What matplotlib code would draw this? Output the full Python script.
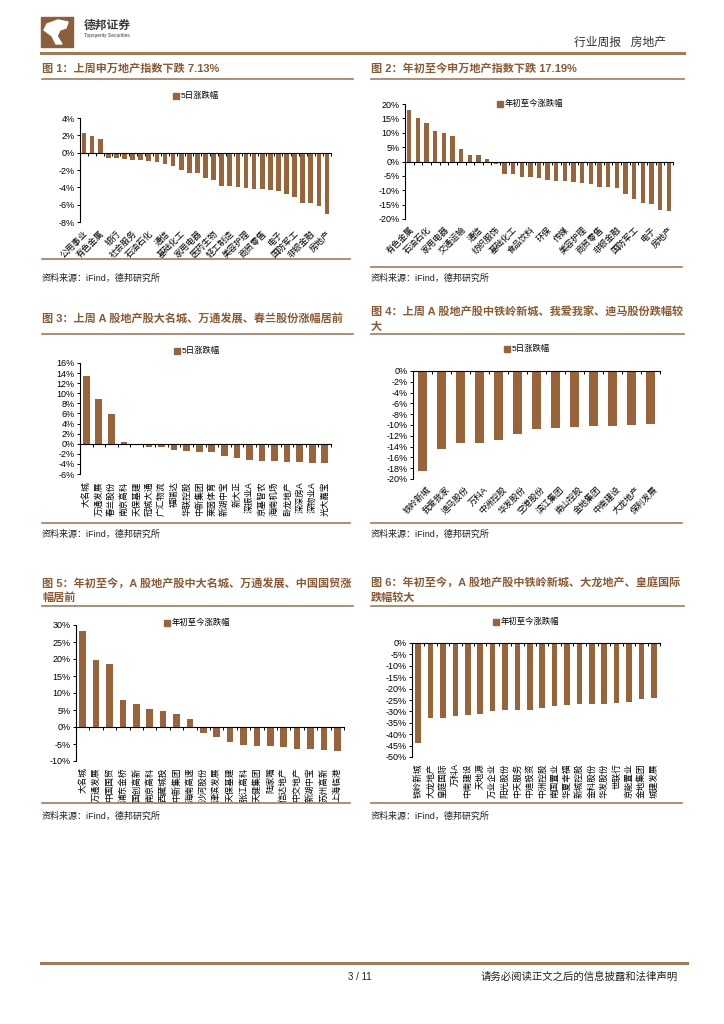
import numpy as np
import matplotlib
matplotlib.use('Agg')
import matplotlib.pyplot as plt
from matplotlib.lines import Line2D
from matplotlib.patches import Rectangle, Polygon
from matplotlib.ticker import FuncFormatter
from matplotlib import transforms

plt.rcParams['font.family'] = ['Liberation Sans', 'Noto Sans CJK SC']

# ---- data ----
# fig 1: SW level-1 industries, 5-day change (labels shown on every other bar)
sw_week_labels = ['公用事业', '有色金属', '银行', '社会服务', '石油石化', '通信', '基础化工', '家用电器',
                  '医药生物', '轻工制造', '美容护理', '商贸零售', '电子', '国防军工', '非银金融', '房地产']
sw_week_values = [2.3, 1.9, 1.6, -0.6, -0.6, -0.7, -0.8, -0.85, -1.0, -1.1, -1.3, -1.5, -2.0, -2.3,
                  -2.4, -2.9, -3.1, -3.8, -3.9, -3.95, -4.05, -4.15, -4.2, -4.3, -4.4, -4.8, -5.1,
                  -5.8, -5.85, -6.1, -7.13]

# fig 2: SW level-1 industries, year-to-date change
sw_ytd_labels = ['有色金属', '石油石化', '家用电器', '交通运输', '通信', '纺织服饰', '基础化工', '食品饮料',
                 '环保', '传媒', '美容护理', '商贸零售', '非银金融', '国防军工', '电子', '房地产']
sw_ytd_values = [17.8, 15.2, 13.4, 10.6, 10.0, 9.0, 4.2, 2.4, 2.2, 0.8, -0.9, -4.4, -4.4, -5.4, -5.4,
                 -5.9, -6.5, -6.9, -6.9, -7.1, -7.4, -7.8, -8.7, -8.8, -9.1, -11.3, -13.0, -14.5,
                 -14.7, -16.8, -17.19]

# fig 3: top gainers last week
top_week_labels = ['大名城', '万通发展', '春兰股份', '南京高科', '天保基建', '冠城大通', '广汇物流', '福瑞达',
                   '华联控股', '中新集团', '莱茵体育', '新湖中宝', '新大正', '深振业A', '京基智农', '海南机场',
                   '卧龙地产', '深深房A', '深物业A', '光大嘉宝']
top_week_values = [13.4, 8.8, 5.9, 0.4, 0.0, -0.6, -0.7, -1.2, -1.5, -1.6, -1.6, -2.5, -2.9, -3.2,
                   -3.4, -3.5, -3.6, -3.6, -3.9, -3.9]

# fig 4: top losers last week
low_week_labels = ['铁岭新城', '我爱我家', '迪马股份', '万科A', '中洲控股', '华发股份', '空港股份', '滨江集团',
                   '南山控股', '金地集团', '中南建设', '大龙地产', '保利发展']
low_week_values = [-18.5, -14.4, -13.4, -13.3, -12.7, -11.6, -10.8, -10.6, -10.4, -10.1, -10.1,
                   -10.0, -9.9]

# fig 5: top gainers year-to-date
top_ytd_labels = ['大名城', '万通发展', '中国国贸', '浦东金桥', '国创高新', '南京高科', '西藏城投', '中新集团',
                  '海南高速', '沙河股份', '津滨发展', '天保基建', '张江高科', '天健集团', '陆家嘴', '信达地产',
                  '中交地产', '新湖中宝', '苏州高新', '上海临港']
top_ytd_values = [28.3, 19.7, 18.4, 8.0, 6.8, 5.3, 4.8, 3.9, 2.5, -1.7, -2.9, -4.3, -5.3, -5.5,
                  -5.7, -6.0, -6.4, -6.6, -6.9, -7.1]

# fig 6: top losers year-to-date
low_ytd_labels = ['铁岭新城', '大龙地产', '皇庭国际', '万科A', '中南建设', '天地源', '万业企业', '阳光股份',
                  '中天服务', '中迪投资', '中洲控股', '南国置业', '华夏幸福', '新城控股', '金科股份', '华发股份',
                  '世联行', '京能置业', '金地集团', '城建发展']
low_ytd_values = [-43.9, -32.9, -32.7, -32.2, -31.6, -31.3, -29.8, -29.5, -29.5, -29.2, -28.5,
                  -27.8, -27.2, -26.7, -26.6, -26.6, -26.3, -25.7, -24.6, -24.0]

W, H = 724, 1024
BAR = '#9A643A'
TITLE = '#8B5A32'
RULE = '#A37A55'

fig = plt.figure(figsize=(W / 100, H / 100), dpi=100)


def ftext(x, y, s, **kw):
    kw.setdefault('va', 'center')
    return fig.text(x / W, 1 - y / H, s, **kw)


def hline(x0, x1, y, color=RULE, lw=1.2):
    fig.add_artist(Line2D([x0 / W, x1 / W], [1 - y / H, 1 - y / H], color=color, lw=lw,
                          transform=fig.transFigure))


def legend(x, y, text):
    fig.add_artist(Rectangle(((x - 3) / W, 1 - (y + 3) / H), 6 / W, 6 / H, color=BAR,
                             transform=fig.transFigure))
    ftext(x + 5, y, text, fontsize=6)


def bar_chart(rect, values, labels, ylim, step, width, every=1, rot=45, gap=8):
    x0, y0, x1, y1 = rect
    ax = fig.add_axes([x0 / W, 1 - y1 / H, (x1 - x0) / W, (y1 - y0) / H])
    xs = np.arange(len(values))
    ax.bar(xs, values, width=width, color=BAR, zorder=2)
    ax.set_xlim(-0.5, len(values) - 0.5)
    ax.set_ylim(*ylim)
    ax.set_yticks(np.arange(ylim[0], ylim[1] + step / 2, step))
    ax.yaxis.set_major_formatter(FuncFormatter(lambda v, p: f'{v:.0f}%'))
    for s in ['top', 'right']:
        ax.spines[s].set_visible(False)
    ax.spines['bottom'].set_position(('data', 0))
    for s in ['left', 'bottom']:
        ax.spines[s].set_linewidth(0.8)
    ax.set_xticks(np.arange(len(values) + 1) - 0.5)
    ax.set_xticklabels([])
    ax.tick_params(axis='x', length=2.5, width=0.7, direction='out')
    ax.tick_params(axis='y', length=2.5, width=0.7, labelsize=6.5, pad=1.5)
    trans = transforms.blended_transform_factory(ax.transData, ax.transAxes)
    yoff = -gap / (y1 - y0)
    for i, lab in enumerate(labels):
        xpos = i * every
        if rot == 45:
            ax.text(xpos + 0.35, yoff, lab, transform=trans, rotation=45, rotation_mode='anchor',
                    ha='right', va='center', fontsize=6.2)
        else:
            ax.text(xpos, yoff, lab, transform=trans, rotation=90, ha='center', va='top', fontsize=6.2)
    return ax


# ---- page header ----
fig.add_artist(Rectangle((41 / W, 1 - 47 / H), 32 / W, 30 / H, color='#8B5E3C', transform=fig.transFigure))
logo = np.array([[47, 24], [58, 20], [68, 22], [66, 28], [60, 30], [57, 36], [62, 44], [56, 44],
                 [52, 36], [48, 33], [44, 30]])
fig.add_artist(Polygon(np.column_stack([logo[:, 0] / W, 1 - logo[:, 1] / H]), color='white',
                       transform=fig.transFigure))
ftext(84, 26, '德邦证券', fontsize=8.5, fontweight='bold', color='#3A3A3A')
ftext(84, 36, 'Topsperity Securities', fontsize=3.5, color='#3A3A3A')
ftext(666, 43, '行业周报   房地产', fontsize=8.5, ha='right', color='#333333')
hline(41, 684, 53, lw=2.2)

# ---- titles ----
tkw = dict(fontsize=8, fontweight='bold', color=TITLE)
ftext(42, 69, '图 1：上周申万地产指数下跌 7.13%', **tkw)
ftext(371, 69, '图 2：年初至今申万地产指数下跌 17.19%', **tkw)
hline(42, 353, 79)
hline(371, 684, 79)

ftext(42, 318, '图 3：上周 A 股地产股大名城、万通发展、春兰股份涨幅居前', **tkw)
ftext(371, 312, '图 4：上周 A 股地产股中铁岭新城、我爱我家、迪马股份跌幅较', **tkw)
ftext(371, 327, '大', **tkw)
hline(42, 353, 334)
hline(371, 684, 334)

ftext(42, 583, '图 5：年初至今，A 股地产股中大名城、万通发展、中国国贸涨', **tkw)
ftext(42, 598, '幅居前', **tkw)
ftext(371, 583, '图 6：年初至今，A 股地产股中铁岭新城、大龙地产、皇庭国际', **tkw)
ftext(371, 598, '跌幅较大', **tkw)
hline(42, 353, 606)
hline(371, 684, 606)

# ---- charts ----
bar_chart((80, 118, 331, 222), sw_week_values, sw_week_labels, (-8, 4), 2, 0.58, every=2, rot=45, gap=10)
legend(176, 96, '5日涨跌幅')

bar_chart((405, 104, 673, 219), sw_ytd_values, sw_ytd_labels, (-20, 20), 5, 0.5, every=2, rot=45, gap=9)
legend(500, 104, '年初至今涨跌幅')

bar_chart((80, 363, 331, 474), top_week_values, top_week_labels, (-6, 16), 2, 0.53, rot=90, gap=7)
legend(177, 351, '5日涨跌幅')

bar_chart((413, 371, 660, 479), low_week_values, low_week_labels, (-20, 0), 2, 0.45, rot=45, gap=9)
legend(507, 349, '5日涨跌幅')

bar_chart((76, 625, 344, 761), top_ytd_values, top_ytd_labels, (-10, 30), 5, 0.5, rot=90, gap=6)
legend(167, 623, '年初至今涨跌幅')

bar_chart((412, 643, 660, 757), low_ytd_values, low_ytd_labels, (-50, 0), 5, 0.46, rot=90, gap=6)
legend(496, 622, '年初至今涨跌幅')

# ---- sources ----
skw = dict(fontsize=6.5, color='#222222')
hline(42, 350, 259)
hline(371, 682, 267)
ftext(42, 278, '资料来源：iFind，德邦研究所', **skw)
ftext(371, 278, '资料来源：iFind，德邦研究所', **skw)
hline(42, 350, 523)
hline(371, 682, 523)
ftext(42, 534, '资料来源：iFind，德邦研究所', **skw)
ftext(371, 534, '资料来源：iFind，德邦研究所', **skw)
hline(42, 350, 803)
hline(371, 682, 803)
ftext(42, 816, '资料来源：iFind，德邦研究所', **skw)
ftext(371, 816, '资料来源：iFind，德邦研究所', **skw)

# ---- footer ----
hline(41, 687, 963, lw=2.2)
ftext(360, 977, '3 / 11', fontsize=7, ha='center', color='#222222')
ftext(678, 977, '请务必阅读正文之后的信息披露和法律声明', fontsize=7.5, ha='right', color='#222222')

fig.savefig('out.png', dpi=100)
